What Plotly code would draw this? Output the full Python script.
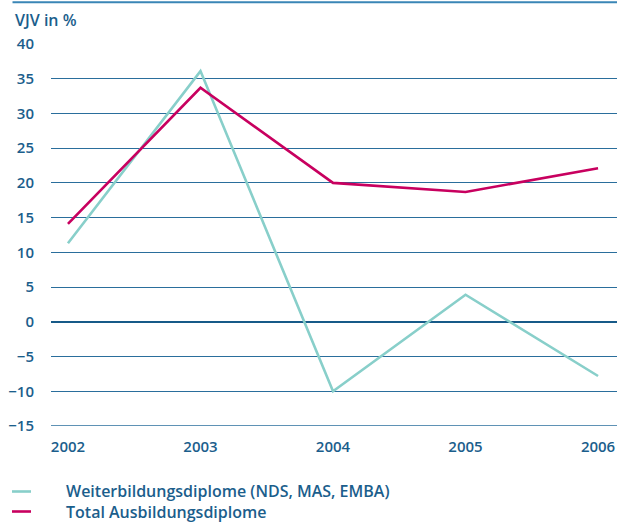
import plotly.graph_objects as go

years = [2002, 2003, 2004, 2005, 2006]
weiterbildung = [11.3, 36.1, -10.0, 3.9, -7.8]
total = [14.1, 33.7, 20.0, 18.7, 22.1]
y_ticks = [40, 35, 30, 25, 20, 15, 10, 5, 0, -5, -10, -15]
series_names = ["Weiterbildungsdiplome (NDS, MAS, EMBA)", "Total Ausbildungsdiplome"]

TEAL = "#88cfca"
MAGENTA = "#c8005f"
BLUE = "#1b5e8c"
GRID = "#2a6e9c"
FONT = "Open Sans"

fig = go.Figure()
fig.add_trace(go.Scatter(x=years, y=weiterbildung, mode="lines", name=series_names[0],
                         line=dict(color=TEAL, width=2.6), showlegend=False))
fig.add_trace(go.Scatter(x=years, y=total, mode="lines", name=series_names[1],
                         line=dict(color=MAGENTA, width=2.6), showlegend=False))

fig.update_layout(
    width=617, height=523,
    margin=dict(l=51, r=0, t=44, b=97),
    paper_bgcolor="white", plot_bgcolor="white",
    font=dict(family=FONT, color=BLUE, size=15),
    xaxis=dict(range=[2001.872, 2006.143], tickvals=years, ticktext=[str(y) for y in years],
               showgrid=False, zeroline=False, showline=False, ticks="",
               tickfont=dict(size=15, family=FONT, color=BLUE, weight=600), ticklabelstandoff=10),
    yaxis=dict(range=[-15, 40], tickvals=y_ticks, showgrid=True, gridcolor=GRID, gridwidth=1.3,
               zeroline=True, zerolinecolor="#175a88", zerolinewidth=2.4, showline=False, ticks="",
               tickfont=dict(size=15, family=FONT, color=BLUE, weight=600), ticklabelstandoff=16),
)

def py(pix):
    return 1 - (pix - 44) / 382

# top border rule
fig.add_shape(type="line", xref="paper", yref="paper", x0=-0.068, x1=1, y0=1.109, y1=1.109,
              line=dict(color="#3a86b6", width=2))
# bottom gridline at -15 (edge)
fig.add_shape(type="line", xref="paper", yref="y", x0=0, x1=1, y0=-15, y1=-15,
              line=dict(color=GRID, width=1.3), layer="below")

fig.add_annotation(text="VJV in %", xref="paper", yref="paper", x=-0.068, y=1.063,
                   xanchor="left", yanchor="middle", showarrow=False,
                   font=dict(size=16, family=FONT, color=BLUE, weight=600))

# legend: samples + one two-line text block
for pix, col in zip([491.5, 511.5], [TEAL, MAGENTA]):
    fig.add_shape(type="line", xref="paper", yref="paper",
                  x0=(12 - 51) / 566, x1=(31 - 51) / 566, y0=py(pix), y1=py(pix),
                  line=dict(color=col, width=2.6))
fig.add_annotation(text="<br>".join(series_names), xref="paper", yref="paper",
                   x=(65 - 51) / 566, y=py(501.5), xanchor="left", yanchor="middle",
                   align="left", showarrow=False, borderpad=0,
                   font=dict(size=16, family=FONT, color=BLUE, weight=600))

fig.write_html("out.html", config={"displayModeBar": False},
               post_script="document.body.style.margin='0';document.body.style.overflow='hidden';")
